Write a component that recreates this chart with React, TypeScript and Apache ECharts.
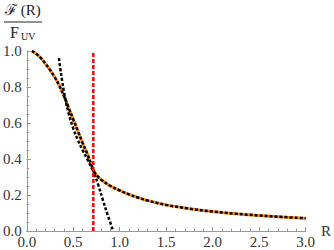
import React, { useEffect, useRef } from "react";
import * as echarts from "echarts";

// small-R branch (dotted, overlaps the full curve up to the crossing)
const innerR = [0.055, 0.1, 0.15, 0.2, 0.25, 0.3, 0.35, 0.4, 0.45, 0.5, 0.55, 0.6, 0.65, 0.7, 0.716, 0.77, 0.82, 0.87, 0.93];
const innerF = [1.0, 0.985, 0.962, 0.93, 0.895, 0.855, 0.808, 0.75, 0.685, 0.62, 0.555, 0.49, 0.43, 0.36, 0.335, 0.255, 0.17, 0.09, 0.0];

// large-R branch (dotted, overlaps the full curve beyond the crossing)
const outerR = [0.346, 0.36, 0.38, 0.4, 0.42, 0.45, 0.5, 0.55, 0.6, 0.65, 0.716, 0.76, 0.8, 0.9, 1.0, 1.1, 1.2, 1.3, 1.5, 1.75, 2.0, 2.25, 2.5, 2.75, 3.0];
const outerF = [0.96, 0.905, 0.835, 0.775, 0.72, 0.655, 0.57, 0.505, 0.45, 0.4, 0.335, 0.305, 0.285, 0.25, 0.225, 0.203, 0.185, 0.169, 0.145, 0.124, 0.108, 0.096, 0.086, 0.078, 0.071];

const crossR = 0.716;
const xTicks = [0, 0.5, 1.0, 1.5, 2.0, 2.5, 3.0];
const yTicks = [0, 0.2, 0.4, 0.6, 0.8, 1.0];

const serif = "Liberation Serif";

export default function App() {
  const ref = useRef<HTMLDivElement>(null);
  useEffect(() => {
    if (!ref.current) return;
    document.body.style.margin = "0";
    const chart = echarts.init(ref.current, undefined, { renderer: "svg" });
    const inner = innerR.map((r, i) => [r, innerF[i]]);
    const outer = outerR.map((r, i) => [r, outerF[i]]);
    const orangeLow = inner.filter((p) => p[0] <= crossR);
    const orangeHigh = outer.filter((p) => p[0] >= crossR);
    const axisColor = "#999";
    const labelColor = "#333";
    const orange = "#ff8a1a";
    const dotted = { color: "#000", width: 2.5, type: [3, 2] as number[], cap: "butt" as const };
    chart.setOption({
      animation: false,
      textStyle: { fontFamily: serif },
      grid: { left: 23, right: 19, top: 51, bottom: 19 },
      xAxis: {
        type: "value",
        min: xTicks[0],
        max: xTicks[xTicks.length - 1],
        interval: 0.5,
        name: "R",
        nameLocation: "end",
        nameGap: 5,
        nameTextStyle: { fontFamily: serif, fontSize: 15, color: labelColor },
        axisLine: { onZero: false, lineStyle: { color: axisColor, width: 1 } },
        axisTick: { inside: true, length: 4, lineStyle: { color: axisColor } },
        minorTick: { show: true, splitNumber: 5, length: 2.5, lineStyle: { color: axisColor } },
        splitLine: { show: false },
        axisLabel: {
          formatter: (v: number) => v.toFixed(1),
          color: labelColor,
          fontFamily: serif,
          fontSize: 15,
          margin: 3,
        },
      },
      yAxis: {
        type: "value",
        min: yTicks[0],
        max: yTicks[yTicks.length - 1],
        interval: 0.2,
        axisLine: { show: true, onZero: false, lineStyle: { color: axisColor, width: 1 } },
        axisTick: { show: true, inside: true, length: 4, lineStyle: { color: axisColor } },
        minorTick: { show: true, splitNumber: 4, length: 2.5, lineStyle: { color: axisColor } },
        splitLine: { show: false },
        axisLabel: {
          formatter: (v: number) => v.toFixed(1),
          color: labelColor,
          fontFamily: serif,
          fontSize: 15,
          margin: 5,
        },
      },
      graphic: [
        { type: "text", left: 5, top: 2, style: { text: "ℱ (R)", fontFamily: serif, fontSize: 15, fill: "#222" } },
        { type: "line", shape: { x1: 4, y1: 22, x2: 42, y2: 22 }, style: { stroke: "#222", lineWidth: 1 } },
        { type: "text", left: 10, top: 24, style: { text: "F", fontFamily: serif, fontSize: 16, fill: "#222" } },
        { type: "text", left: 21, top: 31, style: { text: "UV", fontFamily: serif, fontSize: 10, fill: "#222" } },
      ],
      series: [
        { type: "line", data: orangeLow, symbol: "none", smooth: 0.4, lineStyle: { color: orange, width: 3 }, z: 1 },
        { type: "line", data: orangeHigh, symbol: "none", smooth: 0.4, lineStyle: { color: orange, width: 3 }, z: 1 },
        { type: "line", data: inner, symbol: "none", smooth: 0.4, lineStyle: dotted, z: 2 },
        { type: "line", data: outer, symbol: "none", smooth: 0.4, lineStyle: dotted, z: 2 },
        {
          type: "line",
          data: [[crossR, 0], [crossR, 1]],
          symbol: "none",
          lineStyle: { color: "#f00", width: 2.5, type: [4, 2] },
          z: 3,
        },
      ],
    });
    return () => chart.dispose();
  }, []);
  return <div ref={ref} style={{ width: 334, height: 250 }} />;
}
